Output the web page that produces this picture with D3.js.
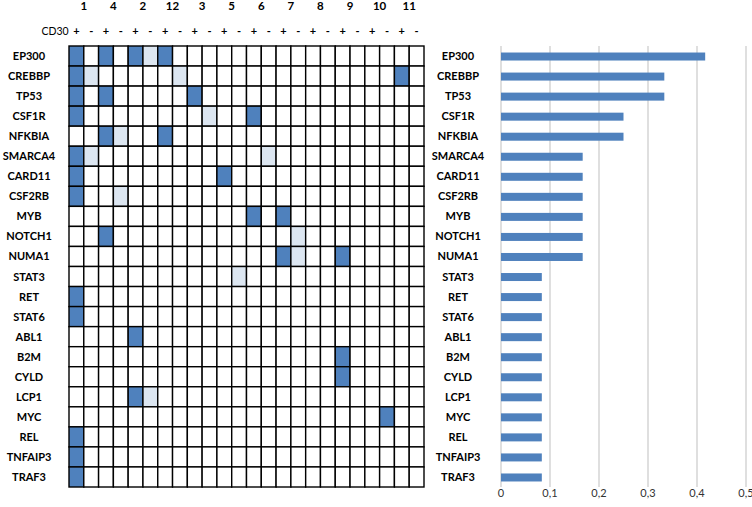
<!DOCTYPE html>
<html><head><meta charset="utf-8">
<script src="https://cdn.jsdelivr.net/npm/d3@7/dist/d3.min.js"></script>
<style>body{margin:0;background:#fff}svg{display:block}</style>
</head><body>
<script>
const genes = ["EP300","CREBBP","TP53","CSF1R","NFKBIA","SMARCA4","CARD11","CSF2RB","MYB","NOTCH1","NUMA1","STAT3","RET","STAT6","ABL1","B2M","CYLD","LCP1","MYC","REL","TNFAIP3","TRAF3"];
const samples = ["1","4","2","12","3","5","6","7","8","9","10","11"];
const cd30 = ["+","-"];
// 2 = mutated (dark), 1 = light, 0 = none ; 24 columns (sample x CD30 +/-)
const matrix = [
 [2,0,2,0,2,1,2,0,0,0,0,0,0,0,0,0,0,0,0,0,0,0,0,0],
 [2,1,0,0,0,0,0,1,0,0,0,0,0,0,0,0,0,0,0,0,0,0,2,0],
 [2,0,2,0,0,0,0,0,2,0,0,0,0,0,0,0,0,0,0,0,0,0,0,0],
 [2,0,0,0,0,0,0,0,0,1,0,0,2,0,0,0,0,0,0,0,0,0,0,0],
 [0,0,2,1,0,0,2,0,0,0,0,0,0,0,0,0,0,0,0,0,0,0,0,0],
 [2,1,0,0,0,0,0,0,0,0,0,0,0,1,0,0,0,0,0,0,0,0,0,0],
 [2,0,0,0,0,0,0,0,0,0,2,0,0,0,0,0,0,0,0,0,0,0,0,0],
 [2,0,0,1,0,0,0,0,0,0,0,0,0,0,0,0,0,0,0,0,0,0,0,0],
 [0,0,0,0,0,0,0,0,0,0,0,0,2,0,2,0,0,0,0,0,0,0,0,0],
 [0,0,2,0,0,0,0,0,0,0,0,0,0,0,0,1,0,0,0,0,0,0,0,0],
 [0,0,0,0,0,0,0,0,0,0,0,0,0,0,2,1,0,0,2,0,0,0,0,0],
 [0,0,0,0,0,0,0,0,0,0,0,1,0,0,0,0,0,0,0,0,0,0,0,0],
 [2,0,0,0,0,0,0,0,0,0,0,0,0,0,0,0,0,0,0,0,0,0,0,0],
 [2,0,0,0,0,0,0,0,0,0,0,0,0,0,0,0,0,0,0,0,0,0,0,0],
 [0,0,0,0,2,0,0,0,0,0,0,0,0,0,0,0,0,0,0,0,0,0,0,0],
 [0,0,0,0,0,0,0,0,0,0,0,0,0,0,0,0,0,0,2,0,0,0,0,0],
 [0,0,0,0,0,0,0,0,0,0,0,0,0,0,0,0,0,0,2,0,0,0,0,0],
 [0,0,0,0,2,1,0,0,0,0,0,0,0,0,0,0,0,0,0,0,0,0,0,0],
 [0,0,0,0,0,0,0,0,0,0,0,0,0,0,0,0,0,0,0,0,0,2,0,0],
 [2,0,0,0,0,0,0,0,0,0,0,0,0,0,0,0,0,0,0,0,0,0,0,0],
 [2,0,0,0,0,0,0,0,0,0,0,0,0,0,0,0,0,0,0,0,0,0,0,0],
 [2,0,0,0,0,0,0,0,0,0,0,0,0,0,0,0,0,0,0,0,0,0,0,0]
];
const frequency = [0.4167,0.3333,0.3333,0.25,0.25,0.1667,0.1667,0.1667,0.1667,0.1667,0.1667,0.0833,0.0833,0.0833,0.0833,0.0833,0.0833,0.0833,0.0833,0.0833,0.0833,0.0833];
const freqTicks = [0,0.1,0.2,0.3,0.4,0.5];
const freqTickLabels = ["0","0,1","0,2","0,3","0,4","0,5"];

const W = 752, H = 507;
const FONT = "Lato, 'Open Sans', sans-serif";
const svg = d3.select("body").append("svg").attr("width", W).attr("height", H);

const cols = d3.range(samples.length * cd30.length);
const x = d3.scaleBand().domain(cols).range([69, 424]);
const y = d3.scaleBand().domain(genes).range([46, 487]);
const colorMap = {0: "#ffffff", 1: "#dce6f1", 2: "#4f81bd"};

// header sample numbers
const pairW = x.bandwidth() * 2;
svg.append("g").selectAll("text").data(samples).join("text")
  .attr("x", (d, i) => x(i * 2) + pairW / 2)
  .attr("y", 10)
  .attr("text-anchor", "middle")
  .attr("font-family", FONT).attr("font-weight", "bold").attr("font-size", 11.5)
  .attr("fill", "#000").text(d => d);

svg.append("text").attr("x", 55).attr("y", 35).attr("text-anchor", "middle")
  .attr("font-family", FONT).attr("font-size", 10.5).attr("fill", "#000").text("CD30");

svg.append("g").selectAll("text").data(cols).join("text")
  .attr("x", d => x(d) + x.bandwidth() / 2)
  .attr("y", 35)
  .attr("text-anchor", "middle")
  .attr("font-family", FONT).attr("font-weight", "bold").attr("font-size", 11)
  .attr("fill", "#000").text(d => cd30[d % 2]);

// left gene labels
svg.append("g").selectAll("text").data(genes).join("text")
  .attr("x", 29)
  .attr("y", d => y(d) + y.bandwidth() / 2 + 4)
  .attr("text-anchor", "middle")
  .attr("font-family", FONT).attr("font-weight", "bold").attr("font-size", 11)
  .attr("fill", "#000").text(d => d);

// grid cells
const cellData = [];
matrix.forEach((row, gi) => row.forEach((v, ci) => cellData.push({g: genes[gi], c: ci, v})));
svg.append("g").selectAll("rect").data(cellData).join("rect")
  .attr("x", d => x(d.c)).attr("y", d => y(d.g))
  .attr("width", x.bandwidth()).attr("height", y.bandwidth())
  .attr("fill", d => colorMap[d.v])
  .attr("stroke", "#000").attr("stroke-width", 1.4);

// bar chart
const xb = d3.scaleLinear().domain([0, 0.5]).range([501, 746]);
svg.append("g").selectAll("line").data(freqTicks).join("line")
  .attr("x1", d => xb(d)).attr("x2", d => xb(d))
  .attr("y1", 46).attr("y2", 487)
  .attr("stroke", "#bfbfbf").attr("stroke-width", 1);

svg.append("g").selectAll("text").data(freqTicks).join("text")
  .attr("x", d => xb(d)).attr("y", 497)
  .attr("text-anchor", "middle")
  .attr("font-family", FONT).attr("font-size", 11).attr("fill", "#333")
  .text((d, i) => freqTickLabels[i]);

svg.append("g").selectAll("text").data(genes).join("text")
  .attr("x", 458)
  .attr("y", d => y(d) + y.bandwidth() / 2 + 4)
  .attr("text-anchor", "middle")
  .attr("font-family", FONT).attr("font-weight", "bold").attr("font-size", 11)
  .attr("fill", "#000").text(d => d);

const barH = 8;
svg.append("g").selectAll("rect").data(genes).join("rect")
  .attr("x", xb(0))
  .attr("y", d => y(d) + y.bandwidth() / 2 - barH / 2 + 0.5)
  .attr("width", (d, i) => xb(frequency[i]) - xb(0))
  .attr("height", barH)
  .attr("fill", "#4f81bd");
</script>
</body></html>
